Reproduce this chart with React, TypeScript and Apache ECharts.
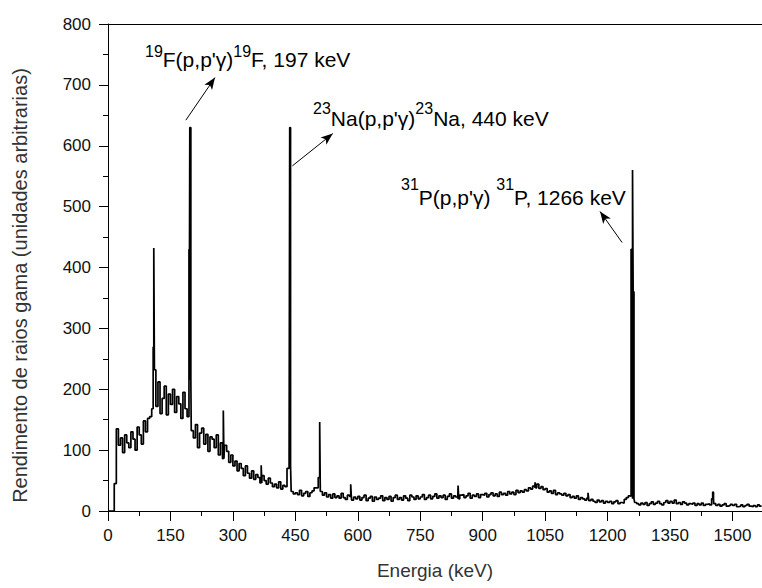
import React, { useEffect, useRef } from 'react';
import * as echarts from 'echarts';

// Background spectrum: counts per 5 keV bin, starting at 0 keV
const BIN_KEV = 5;
const counts: number[] = [
  // 0-45
  0, 0, 0, 45, 135, 108, 120, 96, 125, 112,
  // 50-95
  104, 130, 118, 100, 138, 125, 110, 148, 130, 152,
  // 100-145
  155, 168, 232, 172, 212, 160, 185, 205, 158, 192,
  // 150-195
  175, 200, 162, 188, 176, 152, 195, 168, 155, 215,
  // 200-245
  132, 120, 142, 104, 128, 136, 110, 126, 98, 122,
  // 250-295
  118, 104, 125, 92, 112, 86, 108, 98, 80, 92,
  // 300-345
  74, 82, 66, 78, 70, 58, 74, 62, 54, 66,
  // 350-395
  52, 60, 55, 46, 58, 50, 44, 54, 46, 40,
  // 400-445
  44, 38, 48, 36, 42, 40, 70, 75, 32, 28,
  // 450-495
  30, 27, 34, 25, 29, 32, 24, 30, 33, 38,
  // 500-545
  38, 55, 32, 26, 30, 23, 27, 21, 28, 22,
  // 550-595
  25, 21, 29, 22, 19, 26, 24, 18, 23, 20,
  // 600-645
  24, 18, 22, 26, 17, 21, 24, 16, 23, 19,
  // 650-695
  21, 25, 17, 22, 19, 24, 16, 22, 26, 19,
  // 700-745
  22, 18, 25, 21, 17, 26, 23, 19, 25, 20,
  // 750-795
  23, 27, 19, 22, 26, 20, 24, 28, 21, 25,
  // 800-845
  22, 26, 19, 24, 28, 21, 25, 23, 20, 26,
  // 850-895
  27, 22, 25, 29, 21, 26, 24, 28, 22, 27,
  // 900-945
  26, 29, 23, 27, 30, 25, 28, 24, 31, 27,
  // 950-995
  29, 26, 32, 28, 31, 27, 34, 30, 33, 31,
  // 1000-1045
  35, 33, 38, 36, 41, 38, 44, 37, 40, 35,
  // 1050-1095
  37, 31, 33, 29, 34, 27, 30, 28, 26, 29,
  // 1100-1145
  25, 27, 22, 24, 21, 25, 19, 22, 20, 18,
  // 1150-1195
  21, 17, 19, 16, 14, 18, 15, 17, 13, 16,
  // 1200-1245
  14, 16, 12, 15, 17, 12, 14, 13, 19, 22,
  // 1250-1295
  25, 24, 20, 14, 12, 10, 13, 11, 14, 9,
  // 1300-1345
  12, 15, 11, 13, 16, 12, 10, 14, 17, 13,
  // 1350-1395
  16, 13, 18, 12, 14, 11, 15, 13, 10, 12,
  // 1400-1445
  11, 13, 9, 12, 10, 13, 9, 11, 12, 10,
  // 1450-1495
  20, 12, 9, 11, 8, 10, 12, 8, 9, 11,
  // 1500-1545
  9, 11, 7, 8, 10, 7, 9, 11, 8, 7,
  // 1550-1570
  9, 7, 10, 8, 8,
];

// Narrow gamma lines on top of the background: start energy (keV), counts, width (keV)
const spikeEnergy = [108.5, 110, 194.5, 196.5, 277, 368, 436.5, 508.5, 583, 841, 1026, 1153, 1256.5, 1260, 1261.5, 1452.5];
const spikeCounts = [270, 432, 430, 630, 165, 75, 630, 146, 44, 42, 47, 30, 430, 560, 360, 31];
const spikeWidth = [1.5, 1.5, 2, 2.5, 1.5, 1.5, 2, 1.5, 1.5, 1.5, 1.5, 1.5, 3.5, 1.5, 2, 2];

const X_MAX = 1571;
const X_MAJOR = 150;
const X_MINOR = 75;
const Y_MAX = 800;
const Y_STEP = 100;

const xTitle = 'Energia (keV)';
const yTitle = 'Rendimento de raios gama (unidades arbitrarias)';

// Annotation labels: [superscript, main, superscript, main]
const annotationTexts: string[][] = [
  ['19', "F(p,p'γ)", '19', 'F, 197 keV'],
  ['23', "Na(p,p'γ)", '23', 'Na, 440 keV'],
  ['31', "P(p,p'γ) ", '31', 'P, 1266 keV'],
];
// Arrow tails and heads, in data units [keV, counts]
const arrowTails: number[][] = [[187, 642], [443, 567], [1235, 441]];
const arrowHeads: number[][] = [[257, 712], [540, 620], [1182, 492]];

const FONT = '"Liberation Sans", Arial, Helvetica, sans-serif';

function buildSpectrum(): number[][] {
  const pts: number[][] = counts.map((c, i) => [i * BIN_KEV, c]);
  for (let k = 0; k < spikeEnergy.length; k++) {
    const e = spikeEnergy[k];
    pts.push([e, spikeCounts[k]]);
    const end = e + spikeWidth[k];
    const next = k + 1 < spikeEnergy.length ? spikeEnergy[k + 1] : Infinity;
    if (next > end + 1e-6) {
      const bg = counts[Math.min(counts.length - 1, Math.floor(end / BIN_KEV))];
      pts.push([end, bg]);
    }
  }
  pts.sort((a, b) => a[0] - b[0]);
  return pts;
}

export default function App() {
  const ref = useRef<HTMLDivElement>(null);

  useEffect(() => {
    document.body.style.margin = '0';
    const chart = echarts.init(ref.current!, null, { renderer: 'svg' });
    const data = buildSpectrum();

    const textPlacement = [
      { left: 145, top: 43, raise: 11 },
      { left: 313, top: 100, raise: 13 },
      { left: 401, top: 176, raise: 16 },
    ];

    const graphics = annotationTexts.map((t, k) => {
      const p = textPlacement[k];
      return {
        type: 'text',
        left: p.left,
        top: p.top,
        silent: true,
        style: {
          text: `{s|${t[0]}}{n|${t[1]}}{s|${t[2]}}{n|${t[3]}}`,
          rich: {
            s: {
              fontSize: 16,
              fontFamily: FONT,
              fill: '#000',
              color: '#000',
              verticalAlign: 'bottom',
              padding: [0, 0, p.raise, 0],
            },
            n: {
              fontSize: 21,
              fontFamily: FONT,
              fill: '#000',
              color: '#000',
              verticalAlign: 'bottom',
            },
          },
        },
      };
    });

    const axisLineStyle = { color: '#000', width: 1 };

    chart.setOption({
      animation: false,
      grid: { left: 108, right: 0, top: 24, bottom: 77 },
      xAxis: [
        {
          type: 'value',
          min: 0,
          max: X_MAX,
          interval: X_MAJOR,
          position: 'bottom',
          axisLine: { show: true, onZero: false, lineStyle: axisLineStyle },
          axisTick: { show: true, length: 10, lineStyle: axisLineStyle },
          axisLabel: {
            fontSize: 17,
            color: '#111',
            margin: 16,
            fontFamily: FONT,
            showMaxLabel: false,
            formatter: (v: number) => String(v),
          },
          splitLine: { show: false },
          name: xTitle,
          nameLocation: 'middle',
          nameGap: 50,
          nameTextStyle: { fontSize: 19, color: '#333', fontFamily: FONT },
        },
        {
          type: 'value',
          min: 0,
          max: X_MAX,
          interval: X_MINOR,
          position: 'bottom',
          axisLine: { show: false },
          axisTick: { show: true, length: 5, lineStyle: axisLineStyle },
          axisLabel: { show: false },
          splitLine: { show: false },
        },
        {
          type: 'value',
          min: 0,
          max: X_MAX,
          position: 'top',
          axisLine: { show: true, onZero: false, lineStyle: axisLineStyle },
          axisTick: { show: false },
          axisLabel: { show: false },
          splitLine: { show: false },
        },
      ],
      yAxis: {
        type: 'value',
        min: 0,
        max: Y_MAX,
        interval: Y_STEP,
        axisLine: { show: true, onZero: false, lineStyle: axisLineStyle },
        axisTick: { show: true, length: 9, lineStyle: axisLineStyle },
        minorTick: { show: true, splitNumber: 2, length: 5, lineStyle: axisLineStyle },
        axisLabel: { fontSize: 17, color: '#111', margin: 17, fontFamily: FONT },
        splitLine: { show: false },
        name: yTitle,
        nameLocation: 'middle',
        nameGap: 78,
        nameRotate: 90,
        nameTextStyle: {
          fontSize: 20,
          color: '#333',
          fontFamily: FONT,
          padding: [0, 36, 0, 0],
        },
      },
      series: [
        {
          type: 'line',
          step: 'end',
          data,
          showSymbol: false,
          symbol: 'none',
          xAxisIndex: 0,
          yAxisIndex: 0,
          lineStyle: { color: '#000', width: 1.7 },
          silent: true,
          markLine: {
            silent: true,
            symbol: ['none', 'arrow'],
            symbolSize: [7, 12],
            label: { show: false },
            lineStyle: { color: '#000', width: 1, type: 'solid' },
            emphasis: { disabled: true },
            data: arrowTails.map((tail, i) => [
              { coord: tail },
              { coord: arrowHeads[i] },
            ]),
          },
        },
      ],
      graphic: graphics,
    });

    return () => {
      chart.dispose();
    };
  }, []);

  return (
    <div
      ref={ref}
      style={{ position: 'absolute', left: 0, top: 0, width: 762, height: 588 }}
    />
  );
}
